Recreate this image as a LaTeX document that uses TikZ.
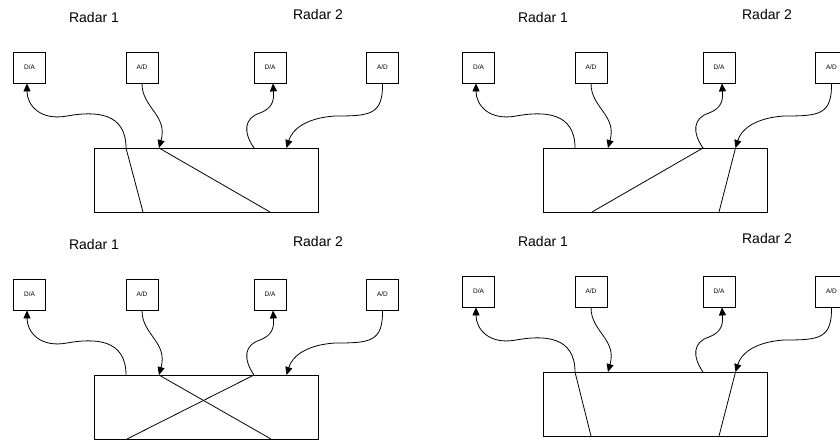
\documentclass[tikz,border=0pt]{standalone}
\usepackage{fontspec}
\setmainfont{Liberation Sans}
\usetikzlibrary{arrows.meta}
\tikzset{
  conv/.style={draw, line width=0.8pt, minimum width=32pt, minimum height=31pt, inner sep=0pt, font=\fontsize{6.5}{7}\selectfont},
  switchbox/.style={draw, line width=0.8pt, minimum width=224pt, minimum height=64pt, inner sep=0pt},
  radarlabel/.style={font=\fontsize{14}{16}\selectfont, inner sep=0pt},
  link/.style={line width=0.8pt, -{Triangle[length=8pt,width=7pt]}},
  route/.style={line width=0.8pt}
}
\newcommand\basepanel{%
  \node[radarlabel] (r1) at (94,17) {Radar 1};
  \node[radarlabel] (r2) at (318,14) {Radar 2};
  \node[conv] (da1) at (29.5,67.5) {D/A};
  \node[conv] (ad1) at (142,67.5) {A/D};
  \node[conv] (da2) at (270,67.5) {D/A};
  \node[conv] (ad2) at (382.5,67.5) {A/D};
  \node[switchbox] (sw) at (206,180) {};
  \coordinate (t1) at (126,148);
  \coordinate (t2) at (159,148);
  \coordinate (t3) at (254,148);
  \coordinate (t4) at (286.5,148);
  \coordinate (m1) at (67,116);
  \coordinate (m3) at (260,113);
  \coordinate (m4) at (335,116);
  \draw[link] (t1) .. controls (126,112) and (95,111) .. (m1) .. controls (40,121) and (27,105) .. ([xshift=-2.5pt]da1.south);
  \draw[link] (ad1.south) .. controls (142,108) and (168,115) .. (t2);
  \draw[link] (t3) .. controls (243,132) and (244,118) .. (m3) .. controls (273,108) and (274,100) .. ([xshift=3pt]da2.south);
  \draw[link] (ad2.south) .. controls (383,115) and (370,116) .. (m4) .. controls (305,118) and (292,130) .. (t4);
}
\begin{document}
\begin{tikzpicture}[x=1pt,y=-1pt]
\useasboundingbox (0,0) rectangle (840,439);
\clip (0,0) rectangle (840,439);
\fill[white] (0,0) rectangle (840,439);
% panel 1
\begin{scope}[name prefix=pa-]
  \basepanel
  \coordinate (b1) at (143,212);
  \coordinate (b2) at (270,212);
  \draw[route] (t1) -- (b1);
  \draw[route] (t2) -- (b2);
\end{scope}
% panel 2
\begin{scope}[shift={(449,0)}, name prefix=pb-]
  \basepanel
  \coordinate (b1) at (143,212);
  \coordinate (b2) at (270,212);
  \draw[route] (t3) -- (b1);
  \draw[route] (t4) -- (b2);
\end{scope}
% panel 3
\begin{scope}[shift={(0,227)}, name prefix=pc-]
  \basepanel
  \coordinate (b1) at (127,212);
  \coordinate (b2) at (271,212);
  \draw[route] (t2) -- (b2);
  \draw[route] (t3) -- (b1);
\end{scope}
% panel 4
\begin{scope}[shift={(449,224)}, name prefix=pd-]
  \basepanel
  \coordinate (b1) at (142,212);
  \coordinate (b2) at (270,212);
  \draw[route] (t1) -- (b1);
  \draw[route] (t4) -- (b2);
\end{scope}
\end{tikzpicture}
\end{document}
